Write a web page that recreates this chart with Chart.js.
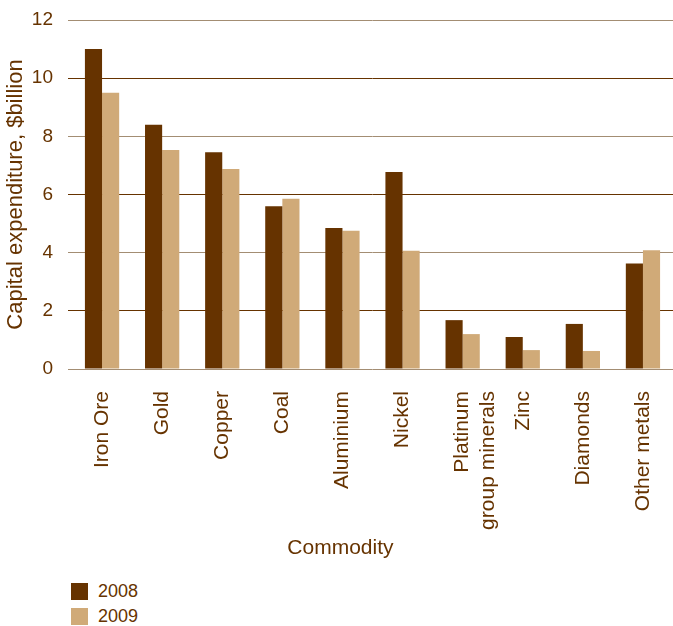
<!DOCTYPE html>
<html>
<head>
<meta charset="utf-8">
<script src="https://cdn.jsdelivr.net/npm/chart.js@4"></script>
<style>
  html, body { margin: 0; padding: 0; background: #fff; }
  #wrap { position: relative; width: 673px; height: 626px; font-family: "Liberation Sans", Arial, Helvetica, sans-serif; }
  #chart-box { position: absolute; left: 0; top: 0; width: 673px; height: 570px; }
  .leg { position: absolute; left: 71px; display: flex; align-items: center; font-size: 18px; color: #663300; }
  .leg i { display: inline-block; width: 17px; height: 17px; margin-right: 10px; }
</style>
</head>
<body>
<div id="wrap">
  <div id="chart-box"><canvas id="capex-chart"></canvas></div>
  <div id="legend"></div>
</div>
<script>
// --- data ---
const commodities = ['Iron Ore', 'Gold', 'Copper', 'Coal', 'Aluminium', 'Nickel',
  ['Platinum', 'group minerals'], 'Zinc', 'Diamonds', 'Other metals'];
const capex2008 = [11.0, 8.4, 7.45, 5.6, 4.85, 6.77, 1.68, 1.1, 1.55, 3.63];
const capex2009 = [9.5, 7.53, 6.88, 5.85, 4.75, 4.07, 1.2, 0.65, 0.62, 4.08];
const yTicks = [0, 2, 4, 6, 8, 10, 12];

const BROWN = '#663300';
const TAN = '#d0aa78';
const FONT = '"Liberation Sans", Arial, Helvetica, sans-serif';

const ctx = document.getElementById('capex-chart');
const capexChart = new Chart(ctx, {
  type: 'bar',
  data: {
    labels: commodities,
    datasets: [
      { label: '2008', data: capex2008, backgroundColor: BROWN },
      { label: '2009', data: capex2009, backgroundColor: TAN },
    ]
  },
  options: {
    responsive: true, maintainAspectRatio: false, animation: false,
    layout: { padding: { top: 20, right: 0, left: 0, bottom: 0 } },
    datasets: { bar: { categoryPercentage: 0.57, barPercentage: 1.0 } },
    plugins: { legend: { display: false }, tooltip: { enabled: false } },
    scales: {
      x: {
        grid: { display: false },
        border: { display: false },
        ticks: {
          color: BROWN, font: { family: FONT, size: 21 },
          minRotation: 90, maxRotation: 90, autoSkip: false, padding: 14
        },
        title: {
          // trailing spaces nudge the title left, as in the original
          display: true, text: 'Commodity'.padEnd(20, ' '), color: BROWN,
          font: { family: FONT, size: 21 }, padding: { top: 0, bottom: 9 }
        },
        afterFit: s => { s.height = 201; s.paddingLeft = 0; s.paddingRight = 0; }
      },
      y: {
        min: 0, max: 12,
        afterBuildTicks: s => { s.ticks = yTicks.map(v => ({ value: v })); },
        grid: {
          color: c => (c.index % 2 === 0 ? '#a38d73' : BROWN),
          lineWidth: 1, drawTicks: true, tickLength: 4
        },
        border: { display: false },
        ticks: { color: BROWN, font: { family: FONT, size: 19 }, padding: 15 },
        title: {
          display: true, text: 'Capital expenditure, $billion', color: BROWN,
          font: { family: FONT, size: 22 }, padding: { top: 3, bottom: 0 }
        },
        afterFit: s => { s.width = 72; s.paddingTop = 0; s.paddingBottom = 0; }
      }
    }
  }
});

// legend as html, stacked like the original
document.getElementById('legend').innerHTML = capexChart.data.datasets.map((d, i) =>
  `<div class="leg" style="top:${581 + i * 25}px"><i style="background:${d.backgroundColor}"></i>${d.label}</div>`
).join('');
</script>
</body>
</html>
